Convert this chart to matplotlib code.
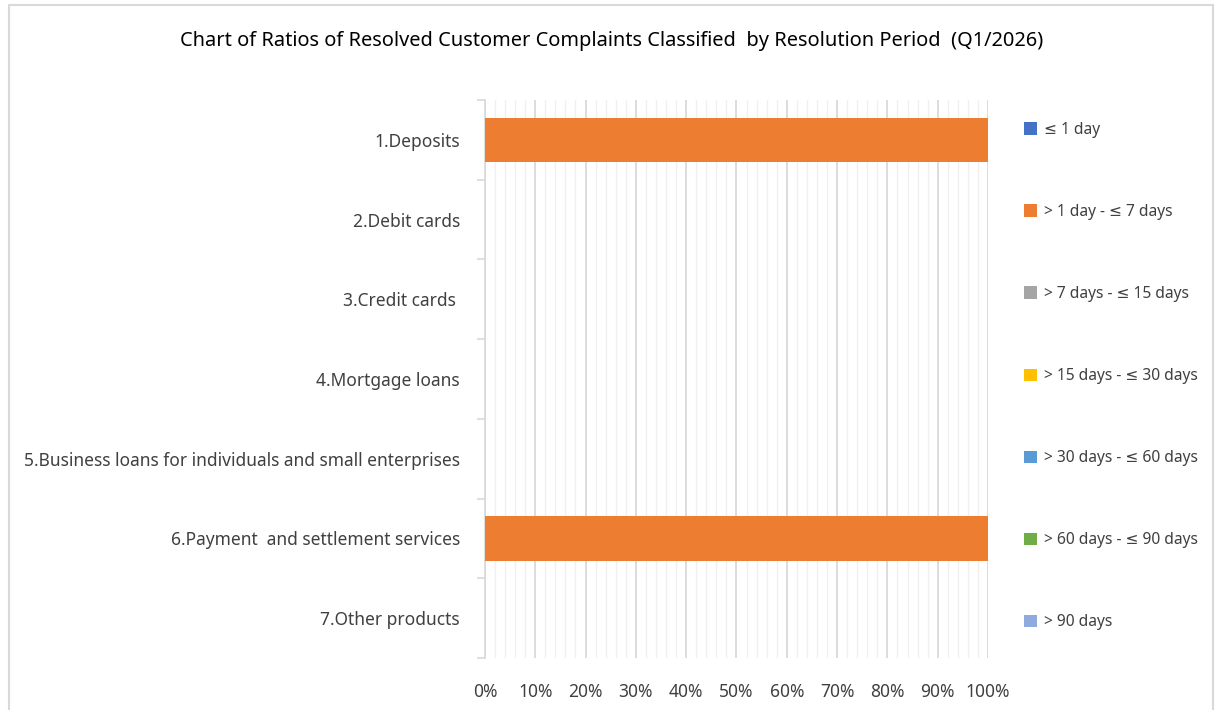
import numpy as np
import matplotlib.pyplot as plt
from matplotlib.patches import Rectangle
from matplotlib.ticker import MultipleLocator, PercentFormatter

plt.rcParams['font.family'] = ['Noto Sans', 'DejaVu Sans']

title = "Chart of Ratios of Resolved Customer Complaints Classified  by Resolution Period  (Q1/2026)"

categories = [
    "1.Deposits",
    "2.Debit cards",
    "3.Credit cards ",
    "4.Mortgage loans",
    "5.Business loans for individuals and small enterprises",
    "6.Payment  and settlement services",
    "7.Other products",
]

periods = [
    "\u2264 1 day",
    "> 1 day - \u2264 7 days",
    "> 7 days - \u2264 15 days",
    "> 15 days - \u2264 30 days",
    "> 30 days - \u2264 60 days",
    "> 60 days - \u2264 90 days",
    "> 90 days",
]

# share (%) of resolved complaints per period, one list per product
le_1 = [0, 0, 0, 0, 0, 0, 0]
d1_7 = [100, 0, 0, 0, 0, 100, 0]
d7_15 = [0, 0, 0, 0, 0, 0, 0]
d15_30 = [0, 0, 0, 0, 0, 0, 0]
d30_60 = [0, 0, 0, 0, 0, 0, 0]
d60_90 = [0, 0, 0, 0, 0, 0, 0]
gt_90 = [0, 0, 0, 0, 0, 0, 0]
series = [le_1, d1_7, d7_15, d15_30, d30_60, d60_90, gt_90]

colors = ["#4472C4", "#ED7D31", "#A5A5A5", "#FFC000", "#5B9BD5", "#70AD47", "#8FAADC"]

fig = plt.figure(figsize=(12.16, 7.10), dpi=100)
# light frame around the chart area
fig.patches.append(Rectangle((0.0074, -0.01), 0.9905, 1.003, transform=fig.transFigure,
                             fill=False, edgecolor="#D9D9D9", linewidth=1.5))

ax = fig.add_axes([0.3988, 0.0732, 0.4137, 0.786])

y = np.arange(len(categories))
left = np.zeros(len(categories))
handles = []
for vals, lab, c in zip(series, periods, colors):
    vals = np.array(vals, dtype=float)
    h = ax.barh(y, vals, left=left, height=0.56, color=c, label=lab, zorder=3)
    handles.append(h)
    left += vals

ax.set_xlim(0, 100)
ax.set_ylim(len(categories) - 0.5, -0.5)
ax.xaxis.set_major_locator(MultipleLocator(10))
ax.xaxis.set_minor_locator(MultipleLocator(2))
ax.xaxis.set_major_formatter(PercentFormatter(decimals=0))
ax.grid(which="major", axis="x", color="#D9D9D9", linewidth=1.3, zorder=0)
ax.grid(which="minor", axis="x", color="#F0F0F0", linewidth=1.0, zorder=0)
ax.tick_params(axis="x", which="both", length=0, pad=18, labelsize=12.5, labelcolor="#404040")

ax.set_yticks(y)
ax.set_yticklabels(categories)
ax.set_yticks(np.arange(len(categories) + 1) - 0.5, minor=True)
ax.tick_params(axis="y", which="major", length=0, pad=18, labelsize=12.5, labelcolor="#404040")
ax.tick_params(axis="y", which="minor", length=6, width=1.2, color="#D9D9D9")
for lbl in ax.get_yticklabels():
    lbl.set_va("center_baseline")

for s in ["top", "right", "bottom"]:
    ax.spines[s].set_visible(False)
ax.spines["left"].set_color("#D9D9D9")
ax.spines["left"].set_linewidth(1.2)

fig.text(0.503, 0.942, title, ha="center", va="center", fontsize=14.4, color="#000000")

leg = ax.legend(handles=handles, loc="upper left", bbox_to_anchor=(1.059, 0.972),
                frameon=False, fontsize=11.2, labelspacing=4.25, handlelength=0.84,
                handleheight=0.84, handletextpad=0.45, borderaxespad=0)
for t in leg.get_texts():
    t.set_color("#404040")

fig.savefig("out.png", dpi=100)
